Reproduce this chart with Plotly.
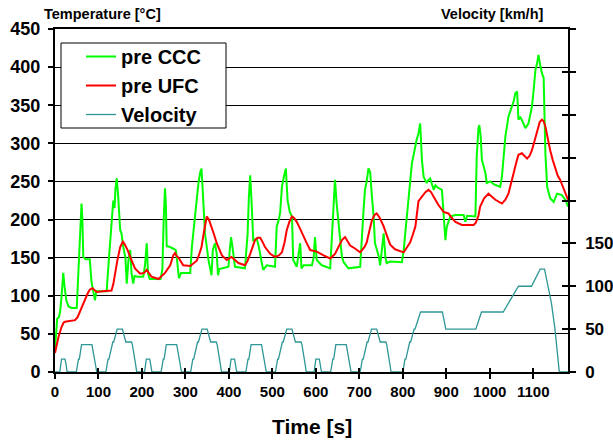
import plotly.graph_objects as go

# ---------------- data ----------------
pre_ccc_points = [
    (0, 29), (3, 55), (5, 70), (9, 72), (12, 80), (15, 99), (19, 130), (22, 112), (26, 94), (31, 86),
    (38, 84), (50, 84), (53, 120), (56, 150), (59, 200), (61, 221), (63, 200), (65, 151), (70, 148),
    (80, 148), (84, 118), (92, 94), (95, 106), (119, 106), (121, 125), (124, 150), (127, 170), (130, 204),
    (134, 225), (137, 215), (139, 240), (142, 254), (145, 233), (150, 186), (153, 182), (157, 164),
    (162, 150), (165, 116), (169, 147), (173, 160), (176, 130), (180, 116), (183, 126), (190, 125),
    (203, 125), (207, 140), (211, 169), (214, 129), (218, 122), (243, 122), (247, 135), (250, 200),
    (253, 241), (255, 220), (257, 165), (265, 164), (278, 160), (282, 140), (285, 123), (290, 130),
    (311, 130), (315, 165), (318, 182), (322, 212), (326, 226), (330, 248), (334, 262), (337, 267),
    (341, 225), (345, 182), (353, 147), (360, 127), (363, 160), (368, 169), (372, 155), (375, 127),
    (378, 135), (399, 138), (402, 160), (405, 177), (408, 165), (411, 150), (414, 138), (437, 136),
    (440, 160), (443, 181), (446, 230), (449, 258), (452, 225), (456, 173), (464, 175), (469, 164),
    (475, 145), (479, 134), (487, 140), (506, 138), (510, 191), (515, 200), (518, 210), (522, 243),
    (526, 255), (529, 265), (531, 267), (535, 225), (540, 210), (545, 204), (548, 147), (556, 138),
    (561, 155), (564, 169), (567, 136), (572, 140), (591, 140), (595, 150), (598, 177), (602, 147),
    (610, 142), (614, 140), (633, 136), (637, 181), (641, 230), (644, 252), (648, 220), (652, 196),
    (656, 170), (660, 151), (664, 144), (671, 138), (675, 136), (702, 138), (706, 182), (710, 215),
    (713, 239), (717, 250), (721, 267), (725, 262), (729, 230), (733, 203), (736, 169), (745, 151),
    (748, 140), (752, 160), (756, 182), (760, 150), (763, 143), (771, 145), (798, 144), (802, 160),
    (806, 186), (809, 205), (813, 226), (817, 255), (821, 274), (825, 285), (828, 296), (832, 305),
    (836, 313), (840, 326), (844, 278), (848, 256), (855, 248), (859, 252), (863, 254), (867, 245),
    (871, 239), (875, 245), (880, 242), (890, 239), (894, 204), (898, 173), (901, 190), (909, 204),
    (921, 206), (940, 206), (944, 197), (948, 205), (967, 204), (970, 282), (974, 320), (976, 324),
    (979, 310), (982, 278), (986, 270), (990, 261), (993, 248), (1001, 250), (1010, 246), (1024, 243),
    (1028, 256), (1032, 285), (1036, 309), (1043, 335), (1051, 348), (1055, 355), (1059, 366),
    (1063, 368), (1066, 331), (1070, 335), (1076, 328), (1082, 320), (1089, 326), (1093, 335),
    (1097, 348), (1101, 370), (1105, 396), (1109, 405), (1112, 416), (1116, 403), (1120, 392),
    (1124, 386), (1128, 287), (1132, 243), (1139, 228), (1147, 223), (1151, 228), (1155, 234),
    (1166, 232), (1175, 225), (1180, 217),
]

pre_ufc_points = [
    (0, 25), (4, 35), (8, 46), (15, 59), (20, 65), (23, 66), (35, 67), (46, 68), (52, 72), (57, 79),
    (63, 88), (69, 97), (75, 103), (80, 108), (86, 110), (92, 107), (96, 105), (110, 106), (130, 107),
    (134, 115), (138, 130), (144, 148), (150, 164), (156, 171), (160, 168), (167, 160), (175, 148),
    (184, 136), (196, 129), (205, 130), (211, 134), (216, 129), (222, 125), (238, 122), (246, 126),
    (253, 130), (265, 140), (272, 153), (276, 156), (280, 152), (284, 150), (295, 140), (311, 139),
    (318, 142), (326, 146), (332, 155), (337, 164), (343, 185), (349, 204), (354, 200), (360, 191),
    (366, 180), (372, 169), (384, 153), (395, 147), (400, 149), (406, 151), (412, 148), (422, 143),
    (437, 140), (443, 146), (449, 155), (455, 165), (460, 173), (466, 176), (472, 176), (478, 170),
    (483, 164), (495, 155), (506, 151), (515, 153), (522, 157), (528, 170), (533, 186), (539, 197),
    (545, 204), (550, 202), (556, 197), (562, 190), (568, 182), (579, 169), (587, 160), (602, 158),
    (618, 153), (633, 149), (644, 155), (652, 163), (660, 173), (667, 177), (673, 172), (679, 166),
    (690, 162), (702, 157), (712, 164), (717, 170), (723, 185), (729, 199), (735, 206), (740, 208),
    (747, 202), (756, 191), (764, 178), (771, 167), (782, 161), (790, 159), (802, 157), (809, 163),
    (817, 170), (823, 180), (829, 191), (836, 224), (844, 230), (852, 236), (859, 239), (865, 236),
    (871, 230), (882, 219), (894, 210), (905, 208), (913, 202), (921, 197), (936, 193), (963, 193),
    (968, 196), (974, 205), (978, 217), (987, 228), (997, 234), (1005, 230), (1013, 226), (1028, 221),
    (1036, 226), (1043, 234), (1050, 248), (1055, 261), (1061, 275), (1066, 285), (1074, 287),
    (1080, 284), (1086, 280), (1092, 284), (1097, 291), (1103, 303), (1109, 317), (1115, 328),
    (1120, 331), (1124, 329), (1128, 322), (1133, 306), (1139, 291), (1145, 278), (1151, 265),
    (1156, 258), (1162, 252), (1168, 244), (1174, 234), (1180, 226),
]

velocity_points = [
    (0, 0), (11, 0), (15, 15), (23, 15), (25, 10), (28, 0), (49, 0), (54, 15), (56, 15), (61, 32),
    (85, 32), (93, 10), (96, 0), (117, 0), (122, 15), (124, 15), (133, 35), (135, 35), (143, 50),
    (155, 50), (163, 35), (176, 35), (178, 32), (185, 10), (188, 0),
    (206, 0), (210, 15), (218, 15), (220, 10), (223, 0), (244, 0), (249, 15), (251, 15), (256, 32),
    (280, 32), (288, 10), (291, 0), (312, 0), (317, 15), (319, 15), (328, 35), (330, 35), (338, 50),
    (350, 50), (358, 35), (371, 35), (373, 32), (380, 10), (383, 0),
    (401, 0), (405, 15), (413, 15), (415, 10), (418, 0), (439, 0), (444, 15), (446, 15), (451, 32),
    (475, 32), (483, 10), (486, 0), (507, 0), (512, 15), (514, 15), (523, 35), (525, 35), (533, 50),
    (545, 50), (553, 35), (566, 35), (568, 32), (575, 10), (578, 0),
    (596, 0), (600, 15), (608, 15), (610, 10), (613, 0), (634, 0), (639, 15), (641, 15), (646, 32),
    (670, 32), (678, 10), (681, 0), (702, 0), (707, 15), (709, 15), (718, 35), (720, 35), (728, 50),
    (740, 50), (748, 35), (761, 35), (763, 32), (770, 10), (773, 0),
    (800, 0), (805, 15), (807, 15), (816, 35), (818, 35), (826, 50), (828, 50), (841, 70), (891, 70),
    (899, 50), (968, 50), (981, 70), (1031, 70), (1066, 100), (1096, 100), (1116, 120), (1126, 120),
    (1142, 80), (1150, 50), (1160, 0), (1180, 0),
]

time_ticks = [0, 100, 200, 300, 400, 500, 600, 700, 800, 900, 1000, 1100]
temp_ticks = [0, 50, 100, 150, 200, 250, 300, 350, 400, 450]
vel_ticks = [0, 50, 100, 150, 200, 250, 300, 350, 400]
vel_labels = ["0", "50", "100", "150", "", "", "", "", ""]

series_names = ["pre CCC", "pre UFC", "Velocity"]

# ---------------- figure ----------------
t_ccc, v_ccc = zip(*pre_ccc_points)
t_ufc, v_ufc = zip(*pre_ufc_points)
t_vel, v_vel = zip(*velocity_points)

FONT = "Arial, Liberation Sans, sans-serif"
GREEN = "#00FF00"
RED = "#FF0000"
TEAL = "#2F9696"

# plot area in pixels: left 55, right 568, top 29, bottom 372
PL, PR, PT, PB = 55, 568, 29, 372
def px_x(p):
    return (p - PL) / (PR - PL)
def px_y(p):
    return (PB - p) / (PB - PT)

fig = go.Figure()
fig.add_trace(go.Scatter(x=t_ccc, y=v_ccc, mode="lines", name=series_names[0],
                         line=dict(color=GREEN, width=2), legendgroup="a"))
fig.add_trace(go.Scatter(x=t_ufc, y=v_ufc, mode="lines", name=series_names[1],
                         line=dict(color=RED, width=2), legendgroup="b"))
fig.add_trace(go.Scatter(x=t_vel, y=v_vel, mode="lines", name=series_names[2], yaxis="y2",
                         line=dict(color=TEAL, width=1.3), legendgroup="c"))
# helper (invisible) trace so the overlay axes with inner tick halves get drawn
fig.add_trace(go.Scatter(x=[0], y=[0], xaxis="x2", yaxis="y3", mode="lines",
                         line=dict(width=0), showlegend=False, hoverinfo="skip"))

fig.update_layout(
    width=613, height=441,
    margin=dict(l=PL, r=613 - PR, t=PT, b=441 - PB),
    paper_bgcolor="white", plot_bgcolor="white",
    font=dict(family=FONT, color="black"),
    showlegend=True,
    legend=dict(x=px_x(81), y=px_y(37), xanchor="left", yanchor="top",
                bgcolor="rgba(0,0,0,0)", borderwidth=0,
                font=dict(family=FONT, size=20, weight="bold", color="black"),
                tracegroupgap=0, itemwidth=30),
    xaxis=dict(range=[0, 1180], tickvals=time_ticks, ticks="outside", ticklen=5, tickwidth=1.5,
               tickcolor="black", showline=True, linewidth=2, linecolor="black", mirror=True,
               showgrid=False, zeroline=False, automargin=False,
               tickfont=dict(family=FONT, size=15, weight="bold", color="black")),
    xaxis2=dict(range=[0, 1180], overlaying="x", anchor="y3", tickvals=time_ticks, ticks="inside",
                ticklen=4, tickwidth=1.5, tickcolor="black", showticklabels=False, showline=False,
                showgrid=False, zeroline=False, automargin=False),
    yaxis=dict(range=[0, 450], tickvals=temp_ticks, ticks="outside", ticklen=5, tickwidth=1.5,
               tickcolor="black", showline=True, linewidth=2, linecolor="black",
               showgrid=True, gridcolor="black", gridwidth=1, zeroline=False,
               ticklabelstandoff=4, automargin=False,
               tickfont=dict(family=FONT, size=18, weight="bold", color="black")),
    yaxis2=dict(range=[0, 400], overlaying="y", side="right", tickvals=vel_ticks, ticktext=vel_labels,
                ticks="outside", ticklen=6, tickwidth=1.5, tickcolor="black", showline=True,
                linewidth=1.5, linecolor="black", showgrid=False, zeroline=False,
                ticklabelstandoff=6, automargin=False,
                tickfont=dict(family=FONT, size=17, weight="bold", color="black")),
    yaxis3=dict(range=[0, 400], overlaying="y", side="right", anchor="x2", tickvals=vel_ticks,
                ticks="inside", ticklen=6, tickwidth=1.5, tickcolor="black", showticklabels=False,
                showline=False, showgrid=False, zeroline=False, automargin=False),
)

# legend frame
fig.add_shape(type="rect", xref="paper", yref="paper", layer="above",
              x0=px_x(61), x1=px_x(226), y0=px_y(128), y1=px_y(43),
              line=dict(color="black", width=1), fillcolor="white")

fig.add_annotation(text="<b>Temperature [°C]</b>", xref="paper", yref="paper",
                   x=px_x(42), y=px_y(14), xanchor="left", yanchor="middle",
                   showarrow=False, font=dict(family=FONT, size=14.5, color="black"))
fig.add_annotation(text="<b>Velocity [km/h]</b>", xref="paper", yref="paper",
                   x=px_x(546), y=px_y(14), xanchor="right", yanchor="middle",
                   showarrow=False, font=dict(family=FONT, size=14.5, color="black"))
fig.add_annotation(text="<b>Time [s]</b>", xref="paper", yref="paper",
                   x=0.5, y=px_y(426), xanchor="center", yanchor="middle",
                   showarrow=False, font=dict(family=FONT, size=21, color="black"))

fig.write_html("out.html")
